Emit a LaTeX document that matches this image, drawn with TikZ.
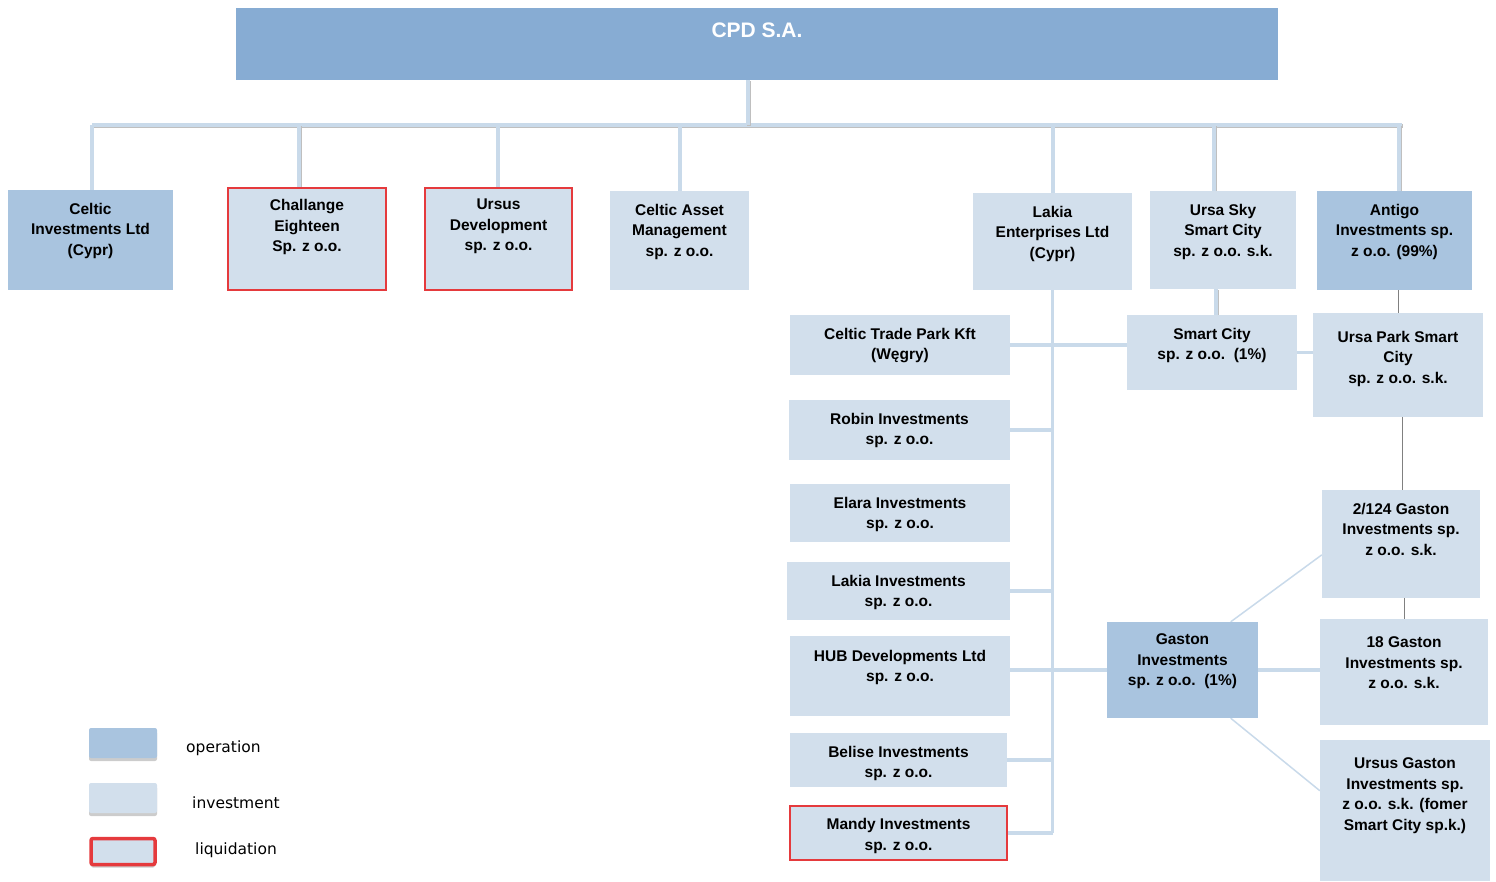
\documentclass[tikz,border=0pt]{standalone}
\usepackage{fontspec}
\setmainfont{Liberation Sans}
\newfontfamily\legendfont{DejaVu Sans}
\usetikzlibrary{positioning, shadows, calc}

\definecolor{cpdblue}{HTML}{87ACD3}
\definecolor{opblue}{HTML}{A9C4DF}
\definecolor{invblue}{HTML}{D2DFEC}
\definecolor{liqred}{HTML}{E53A3D}
\definecolor{linkblue}{HTML}{C9DAEA}

\pgfdeclarelayer{bg}
\pgfsetlayers{bg,main}

\tikzset{
  box/.style={rectangle, inner sep=0, draw=none},
  opbox/.style={box, fill=opblue},
  invbox/.style={box, fill=invblue},
  liqbox/.style={box, fill=invblue, draw=liqred, line width=1.8},
  txt/.style={align=center, inner sep=0, font=\bfseries\fontsize{15.5}{20.5}\selectfont},
  legtxt/.style={anchor=west, inner sep=0, font=\legendfont\fontsize{15.5}{18}\selectfont},
  conn/.style={draw=linkblue, line width=4,
    preaction={draw=black!25, line width=4, transform canvas={xshift=0.8pt, yshift=-1.2pt}}},
  link/.style={draw=linkblue, line width=3.5},
  greyline/.style={draw=gray, line width=1},
  diagline/.style={draw=linkblue, line width=1.5},
  legshadow/.style={drop shadow={shadow xshift=0pt, shadow yshift=-3pt, opacity=0.4}}
}

\begin{document}
\begin{tikzpicture}[x=1pt, y=-1pt]
  \useasboundingbox (0,0) rectangle (1496,881);

  % parent
  \node[box, fill=cpdblue, minimum width=1042, minimum height=72] (cpd) at (757,44) {};
  \node[below=15pt of cpd.north, inner sep=0, text=white,
        font=\bfseries\fontsize{21}{25}\selectfont] (cpd-t) {CPD S.A.};

  % first row
  \node[opbox, minimum width=165, minimum height=100] (celtic) at (90.5,240) {};
  \node[txt, below=13pt of celtic.north] (celtic-t) {Celtic\\Investments Ltd\\(Cypr)};
  \node[liqbox, minimum width=158, minimum height=102] (chal) at (307,239) {};
  \node[txt, below=12pt of chal.north] (chal-t) {Challange\\Eighteen\\Sp. z o.o.};
  \node[liqbox, minimum width=147, minimum height=102] (ursusdev) at (498.5,239) {};
  \node[txt, below=12pt of ursusdev.north] (ursusdev-t) {Ursus\\Development\\sp. z o.o.};
  \node[invbox, minimum width=139, minimum height=99] (asset) at (679.5,240.5) {};
  \node[txt, below=13pt of asset.north] (asset-t) {Celtic Asset\\Management\\sp. z o.o.};
  \node[invbox, minimum width=159, minimum height=97] (lakia) at (1052.5,241.5) {};
  \node[txt, below=13pt of lakia.north] (lakia-t) {Lakia\\Enterprises Ltd\\(Cypr)};
  \node[invbox, minimum width=146, minimum height=98] (ursasky) at (1223,240) {};
  \node[txt, below=13pt of ursasky.north] (ursasky-t) {Ursa Sky\\Smart City\\sp. z o.o. s.k.};
  \node[opbox, minimum width=155, minimum height=99] (antigo) at (1394.5,240.5) {};
  \node[txt, below=13pt of antigo.north] (antigo-t) {Antigo\\Investments sp.\\z o.o. (99\%)};

  % Lakia column
  \node[invbox, minimum width=220, minimum height=60] (ctp) at (900,345) {};
  \node[txt, below=13pt of ctp.north] (ctp-t) {Celtic Trade Park Kft\\(Węgry)};
  \node[invbox, minimum width=221, minimum height=60] (robin) at (899.5,430) {};
  \node[txt, below=13pt of robin.north] (robin-t) {Robin Investments\\sp. z o.o.};
  \node[invbox, minimum width=220, minimum height=58] (elara) at (900,513) {};
  \node[txt, below=13pt of elara.north] (elara-t) {Elara Investments\\sp. z o.o.};
  \node[invbox, minimum width=223, minimum height=58] (lakiainv) at (898.5,591) {};
  \node[txt, below=13pt of lakiainv.north] (lakiainv-t) {Lakia Investments\\sp. z o.o.};
  \node[invbox, minimum width=220, minimum height=80] (hub) at (900,676) {};
  \node[txt, below=14pt of hub.north] (hub-t) {HUB Developments Ltd\\sp. z o.o.};
  \node[invbox, minimum width=217, minimum height=54] (belise) at (898.5,760) {};
  \node[txt, below=13pt of belise.north] (belise-t) {Belise Investments\\sp. z o.o.};
  \node[liqbox, minimum width=217, minimum height=54] (mandy) at (898.5,833) {};
  \node[txt, below=13pt of mandy.north] (mandy-t) {Mandy Investments\\sp. z o.o.};

  % Smart City branch
  \node[invbox, minimum width=170, minimum height=75] (smart) at (1212,352.5) {};
  \node[txt, below=13pt of smart.north] (smart-t) {Smart City\\sp. z o.o.~~(1\%)};
  \node[invbox, minimum width=170, minimum height=104] (ursapark) at (1398,365) {};
  \node[txt, below=18pt of ursapark.north] (ursapark-t) {Ursa Park Smart\\City\\sp. z o.o. s.k.};
  \node[opbox, minimum width=151, minimum height=96] (gaston) at (1182.5,670) {};
  \node[txt, below=12pt of gaston.north] (gaston-t) {Gaston\\Investments\\sp. z o.o.~~(1\%)};
  \node[invbox, minimum width=158, minimum height=108] (g2124) at (1401,544) {};
  \node[txt, below=13pt of g2124.north] (g2124-t) {2/124 Gaston\\Investments sp.\\z o.o. s.k.};
  \node[invbox, minimum width=168, minimum height=106] (g18) at (1404,672) {};
  \node[txt, below=18pt of g18.north] (g18-t) {18 Gaston\\Investments sp.\\z o.o. s.k.};
  \node[invbox, minimum width=170, minimum height=141] (ursusg) at (1405,810.5) {};
  \node[txt, below=18pt of ursusg.north] (ursusg-t) {Ursus Gaston\\Investments sp.\\z o.o. s.k. (fomer\\Smart City sp.k.)};

  % legend
  \node[opbox, rounded corners=2, legshadow, minimum width=68, minimum height=30] (legop) at (123,743) {};
  \node[legtxt] (legop-t) at (186,748) {operation};
  \node[invbox, rounded corners=2, legshadow, minimum width=68, minimum height=30] (leginv) at (123,798) {};
  \node[legtxt] (leginv-t) at (192,803) {investment};
  \node[invbox, draw=liqred, line width=3.5, rounded corners=2, legshadow,
        minimum width=64, minimum height=26] (legliq) at (123,851.5) {};
  \node[legtxt] (legliq-t) at (195,850) {liquidation};

  \begin{pgfonlayer}{bg}
    % bus
    \coordinate (busL) at (92,125);
    \coordinate (busR) at (1402,125);
    \draw[conn] (busL) -- (busR);
    \draw[conn] ([xshift=-9pt]cpd.south) -- ([xshift=-9pt]cpd.south |- busL);
    \foreach \n/\dx in {celtic/1, chal/-8, ursusdev/-1, asset/0, lakia/0, ursasky/-9, antigo/4.5}
      \draw[conn] ([xshift=\dx pt]\n.north) -- ([xshift=\dx pt]\n.north |- busL);

    % Lakia Enterprises
    \draw[link] (lakia.south) -- (lakia.south |- mandy.east);
    \draw[link] (ctp.east) -- (smart.west |- ctp.east);
    \foreach \n in {robin, lakiainv, belise, mandy}
      \draw[link] (\n.east) -- (\n.east -| lakia.south);
    \draw[link] (hub.east |- gaston.west) -- (gaston.west);

    % Ursa Sky / Antigo
    \draw[conn] ([xshift=-7pt]ursasky.south) -- ([xshift=-7pt]ursasky.south |- smart.north);
    \draw[link] (smart.east) -- (ursapark.west |- smart.east);
    \draw[greyline] ([xshift=4pt]antigo.south) -- ([xshift=4pt]antigo.south |- ursapark.north);
    \draw[greyline] ([xshift=4pt]ursapark.south) -- ([xshift=4pt]ursapark.south |- g2124.north);
    \draw[greyline] ([xshift=3pt]g2124.south) -- ([xshift=3pt]g2124.south |- g18.north);

    % Gaston
    \draw[link] (gaston.east) -- (g18.west |- gaston.east);
    \draw[diagline] (gaston.45) -- ($(g2124.north west)!0.6!(g2124.south west)$);
    \draw[diagline] (gaston.-45) -- ($(ursusg.north west)!0.36!(ursusg.south west)$);
  \end{pgfonlayer}
\end{tikzpicture}
\end{document}
